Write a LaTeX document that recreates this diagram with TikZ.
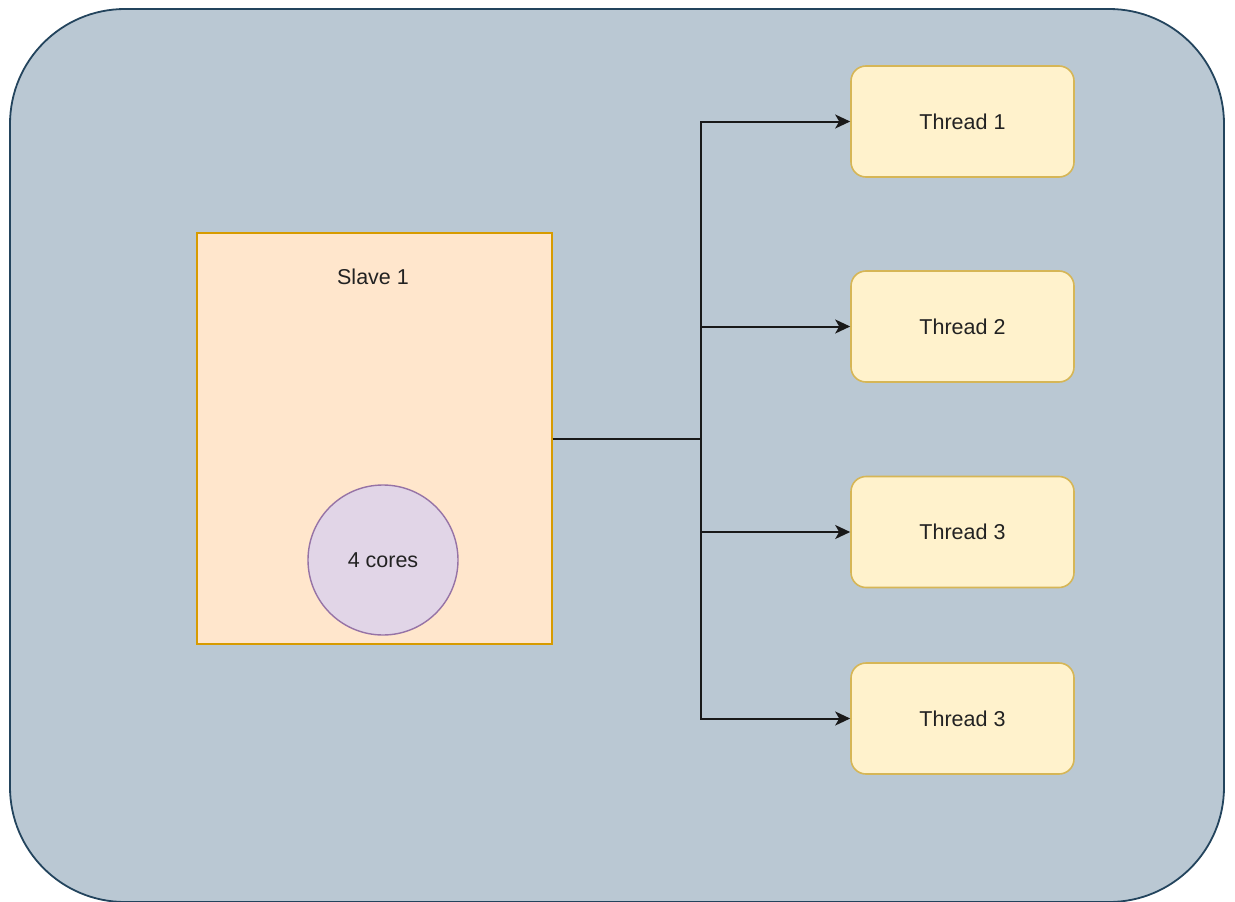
\documentclass[tikz,border=0pt]{standalone}
\usepackage{fontspec}
\setmainfont{Liberation Sans}
\usetikzlibrary{arrows.meta,calc}
\definecolor{outerfill}{HTML}{BAC8D3}
\definecolor{outerdraw}{HTML}{23445D}
\definecolor{slavefill}{HTML}{FFE6CC}
\definecolor{slavedraw}{HTML}{D79B00}
\definecolor{corefill}{HTML}{E1D5E7}
\definecolor{coredraw}{HTML}{9673A6}
\definecolor{thfill}{HTML}{FFF2CC}
\definecolor{thdraw}{HTML}{D6B656}
\definecolor{txt}{HTML}{222222}
\tikzset{
  lbl/.style={font=\fontsize{21.5}{25}\selectfont, text=txt},
  threadbox/.style={draw=thdraw, fill=thfill, line width=1.6pt, rounded corners=15pt,
    minimum width=223pt, minimum height=111pt, inner sep=0pt, lbl},
  conn/.style={draw=black!90, line width=2pt, -{Stealth[length=15pt,width=14pt,inset=4pt]}},
}
\begin{document}
\begin{tikzpicture}[x=1pt,y=-1pt]
\useasboundingbox (0,0) rectangle (1235,902);
\node[draw=outerdraw, fill=outerfill, line width=1.8pt, rounded corners=115pt,
  minimum width=1214pt, minimum height=893pt, inner sep=0pt] (outer) at (617,455.5) {};
\node[draw=slavedraw, fill=slavefill, line width=1.6pt,
  minimum width=355pt, minimum height=411pt, inner sep=0pt] (slave) at (374.5,438.5) {};
\node[lbl] (slavelbl) at (373,277) {Slave 1};
\node[circle, draw=coredraw, fill=corefill, line width=1.4pt,
  minimum size=150pt, inner sep=0pt, lbl] (cores) at (383,560) {4 cores};
\node[threadbox] (t1) at (962.5,121.5) {Thread 1};
\node[threadbox] (t2) at (962.5,326.5) {Thread 2};
\node[threadbox] (t3) at (962.5,532) {Thread 3};
\node[threadbox] (t4) at (962.5,718.5) {Thread 3};
\coordinate (junc) at (701,438.5);
\foreach \t in {t1,t2,t3,t4}{
  \draw[conn] (slave.east) -- (junc) |- (\t.west);
}
\end{tikzpicture}
\end{document}
